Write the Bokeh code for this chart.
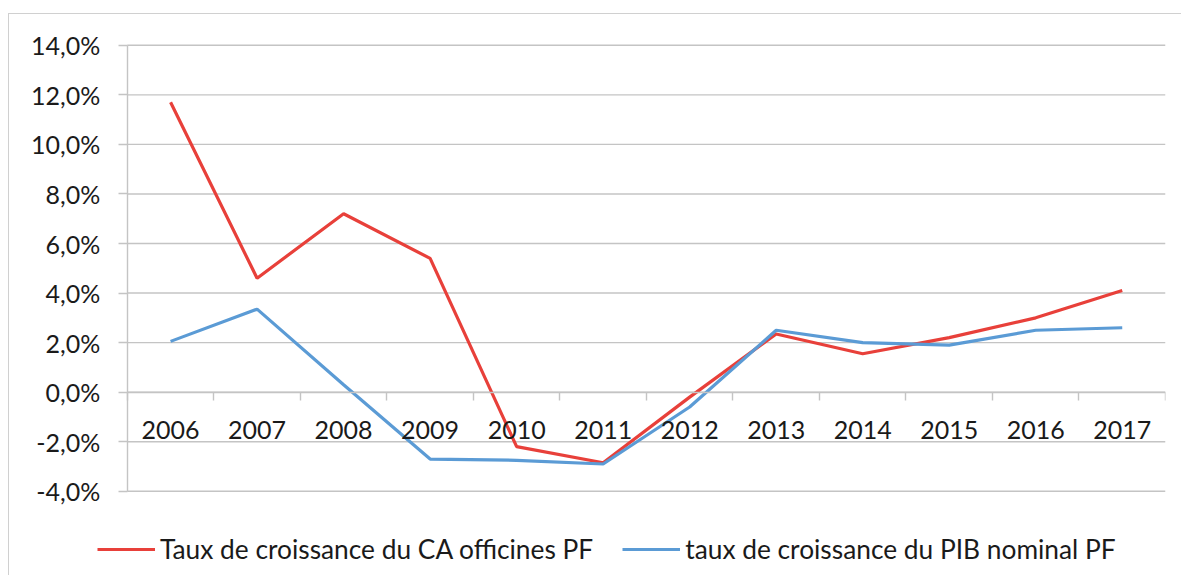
from bokeh.plotting import figure
from bokeh.models import (Range1d, FixedTicker, LinearAxis, Legend, LegendItem)
from bokeh.embed import file_html
from bokeh.resources import INLINE

years = ["2006", "2007", "2008", "2009", "2010", "2011", "2012", "2013", "2014", "2015", "2016", "2017"]
ca_officines = [11.7, 4.6, 7.2, 5.4, -2.2, -2.85, -0.2, 2.35, 1.55, 2.2, 3.0, 4.1]
pib_nominal = [2.05, 3.35, 0.3, -2.7, -2.75, -2.9, -0.6, 2.5, 2.0, 1.9, 2.5, 2.6]
y_ticks = [-4, -2, 0, 2, 4, 6, 8, 10, 12, 14]
y_labels = ["-4,0%", "-2,0%", "0,0%", "2,0%", "4,0%", "6,0%", "8,0%", "10,0%", "12,0%", "14,0%"]
series_names = ["Taux de croissance du CA officines PF", "taux de croissance du PIB nominal PF"]

FONT = "Lato"
GRID = "#c4c4c4"
TXT = "#1a1a1a"
RED = "#e8403a"
BLUE = "#5b9bd5"

n = len(years)
x_centers = [i + 0.5 for i in range(n)]   # category centres on a 0..n band scale
y_lo, y_hi = y_ticks[0], y_ticks[-1]

# the frame is extended around the data so the axis labels and legend sit inside it
p = figure(x_range=Range1d(-1.2, n), y_range=Range1d(-7.4, 14.84),
           frame_width=1142, frame_height=551,
           min_border_left=14, min_border_right=16, min_border_top=10, min_border_bottom=0,
           output_backend="svg", toolbar_location=None,
           background_fill_color="white", border_fill_color="white")
p.styles = {"border-left": "1px solid #d0d0d0", "border-top": "1px solid #d0d0d0",
            "margin-top": "13px", "margin-left": "8px"}
p.outline_line_color = None
p.xgrid.grid_line_color = None
p.ygrid.grid_line_color = None

# horizontal gridlines over the category band only
p.segment(x0=[0] * len(y_ticks), x1=[n] * len(y_ticks), y0=y_ticks, y1=y_ticks,
          line_color=GRID, line_width=1.4)

# y axis at x = 0
p.yaxis.fixed_location = 0
p.yaxis.bounds = (y_lo, y_hi)
p.yaxis.ticker = FixedTicker(ticks=y_ticks)
p.yaxis.major_label_overrides = {t: l for t, l in zip(y_ticks, y_labels)}
p.yaxis.axis_line_color = GRID
p.yaxis.axis_line_width = 1.4
p.yaxis.major_tick_line_color = GRID
p.yaxis.major_tick_line_width = 1.4
p.yaxis.major_tick_in = 0
p.yaxis.major_tick_out = 9
p.yaxis.minor_tick_line_color = None
p.yaxis.major_label_standoff = 18
p.yaxis.major_label_text_font = FONT
p.yaxis.major_label_text_font_size = "25px"
p.yaxis.major_label_text_color = TXT

# x axis line at zero with tick marks on the category boundaries
p.xaxis.fixed_location = 0
p.xaxis.bounds = (0, n)
p.xaxis.ticker = FixedTicker(ticks=list(range(n + 1)))
p.xaxis.axis_line_color = GRID
p.xaxis.axis_line_width = 1.4
p.xaxis.major_tick_line_color = GRID
p.xaxis.major_tick_line_width = 1.4
p.xaxis.major_tick_in = 0
p.xaxis.major_tick_out = 8
p.xaxis.minor_tick_line_color = None
p.xaxis.major_label_text_font_size = "0px"
p.xaxis.major_label_text_alpha = 0
p.xaxis.major_label_standoff = 0

# category labels, drawn just under the zero line
label_axis = LinearAxis(ticker=FixedTicker(ticks=x_centers),
                        major_label_overrides={c: y for c, y in zip(x_centers, years)},
                        axis_line_color=None, major_tick_line_color=None, minor_tick_line_color=None,
                        major_tick_in=0, major_tick_out=0, major_label_standoff=0,
                        major_label_text_font=FONT, major_label_text_font_size="25px",
                        major_label_text_color=TXT)
label_axis.fixed_location = -1.17
p.add_layout(label_axis, "below")

r1 = p.line(x=x_centers, y=ca_officines, line_color=RED, line_width=3.2)
r2 = p.line(x=x_centers, y=pib_nominal, line_color=BLUE, line_width=3.2)

legend = Legend(items=[LegendItem(label=series_names[0], renderers=[r1]),
                       LegendItem(label=series_names[1], renderers=[r2])],
                orientation="horizontal", location=(74, 10),
                padding=0, margin=0, spacing=29, glyph_width=58, glyph_height=20,
                label_standoff=5, border_line_color=None, background_fill_alpha=0,
                label_text_font=FONT, label_text_font_size="26.3px", label_text_color=TXT)
p.add_layout(legend, "center")

open("out.html", "w").write(file_html(p, INLINE))
